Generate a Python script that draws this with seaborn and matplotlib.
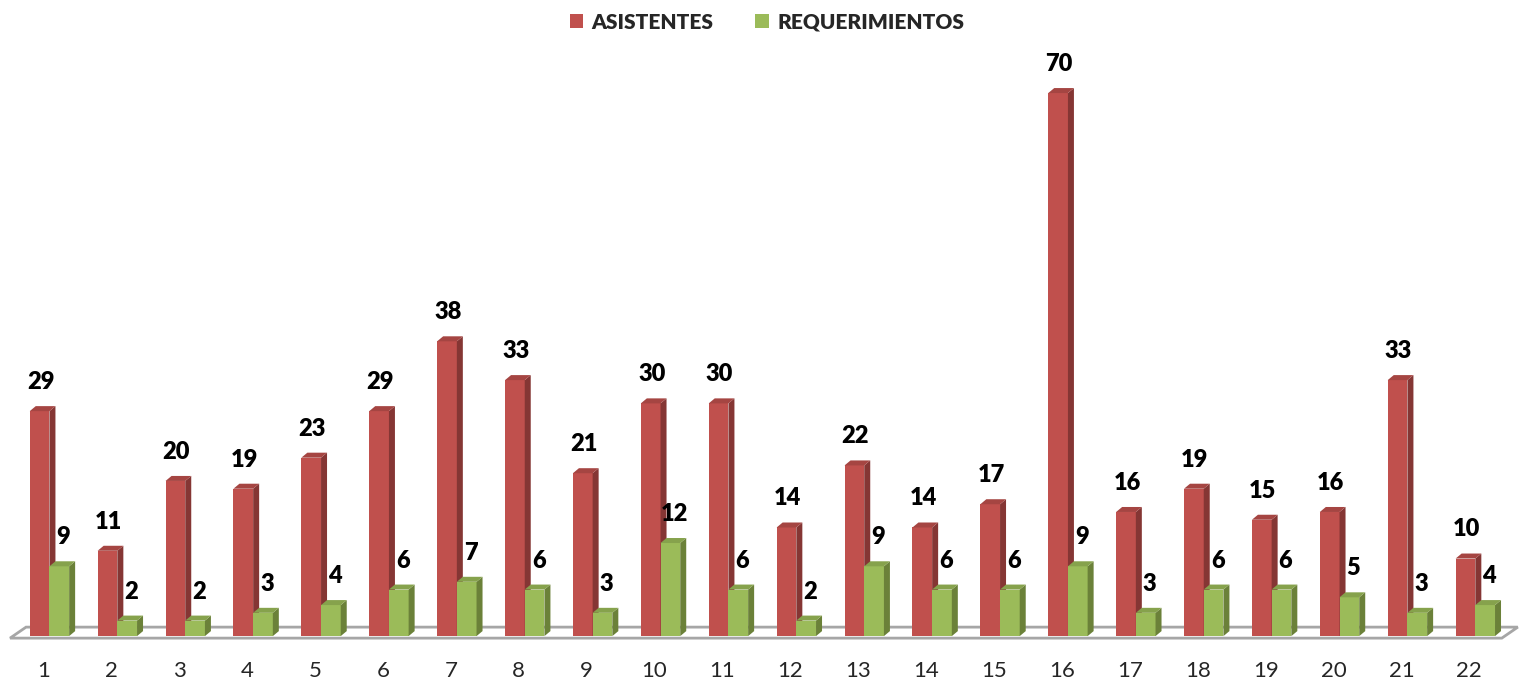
import matplotlib
matplotlib.use("Agg")
import matplotlib.pyplot as plt
from matplotlib.patches import Polygon, Patch
from matplotlib.transforms import ScaledTranslation
import pandas as pd
import seaborn as sns

# Data
days = [str(i) for i in range(1, 23)]
asistentes = [29, 11, 20, 19, 23, 29, 38, 33, 21, 30, 30, 14, 22, 14, 17, 70, 16, 19, 15, 16, 33, 10]
requerimientos = [9, 2, 2, 3, 4, 6, 7, 6, 3, 12, 6, 2, 9, 6, 6, 9, 3, 6, 6, 5, 3, 4]
series_names = ["ASISTENTES", "REQUERIMIENTOS"]

front_colors = ["#c0504d", "#9bbb59"]
side_colors = ["#853634", "#6b8139"]
top_colors = ["#a54542", "#86a24c"]

df = pd.DataFrame({
    "dia": days * 2,
    "valor": asistentes + requerimientos,
    "serie": [series_names[0]] * len(days) + [series_names[1]] * len(days),
})

sns.set_style("white")
plt.rcParams["font.family"] = ["Lato", "DejaVu Sans"]

fig = plt.figure(figsize=(15.19, 6.93), dpi=100)
ax = fig.add_axes([0.0102, 0.0765, 0.9834, 0.834])

sns.barplot(data=df, x="dia", y="valor", hue="serie", palette=front_colors,
            width=0.58, saturation=1, legend=False, ax=ax)

ax.set_xlim(-0.5, 21.5)
ax.set_ylim(-0.5, 74)

# pixel -> data conversion for the fake 3D depth
fig.canvas.draw()
bbox = ax.get_window_extent()
px_x = 22 / bbox.width
px_y = 74.5 / bbox.height
dx, dy = 6 * px_x, 5 * px_y

# floor
floor = Polygon([(-0.58, -0.26), (21.39, -0.26), (21.39 + 16 * px_x, -0.26 + 11 * px_y),
                 (-0.58 + 16 * px_x, -0.26 + 11 * px_y)], closed=True,
                facecolor="white", edgecolor="#a6a6a6", linewidth=2, zorder=0.5, clip_on=False)
ax.add_patch(floor)

for k, cont in enumerate(ax.containers):
    z = 2 + k
    for bar in cont:
        bar.set_zorder(z)
        bar.set_edgecolor("none")
        x0 = bar.get_x()
        w = bar.get_width()
        h = bar.get_height()
        side = Polygon([(x0 + w, 0), (x0 + w + dx, dy), (x0 + w + dx, h + dy), (x0 + w, h)],
                       closed=True, facecolor=side_colors[k], edgecolor="none", zorder=z, clip_on=False)
        top = Polygon([(x0, h), (x0 + dx, h + dy), (x0 + w + dx, h + dy), (x0 + w, h)],
                      closed=True, facecolor=top_colors[k], edgecolor="none", zorder=z, clip_on=False)
        ax.add_patch(side)
        ax.add_patch(top)
        shift = 1 if k == 0 else 4
        ax.annotate(f"{int(h)}", (x0 + w / 2, h), xytext=(shift * 0.72, 13), textcoords="offset points",
                    ha="center", va="bottom", fontsize=17, fontweight="heavy", color="black", zorder=10)

for s in ax.spines.values():
    s.set_visible(False)
ax.set_yticks([])
ax.set_xlabel("")
ax.set_ylabel("")
ax.tick_params(axis="x", length=0, pad=15, labelsize=16)
for lab in ax.get_xticklabels():
    lab.set_transform(lab.get_transform() + ScaledTranslation(-0.06, 0, fig.dpi_scale_trans))

handles = [Patch(facecolor=c, edgecolor="none") for c in front_colors]
fig.legend(handles, series_names, loc="center", bbox_to_anchor=(0.505, 0.968), ncol=2, frameon=False,
           handlelength=0.65, handleheight=0.65, handletextpad=0.4, columnspacing=2.0,
           prop={"weight": "heavy", "size": 15})

fig.savefig("out.png", dpi=100)
